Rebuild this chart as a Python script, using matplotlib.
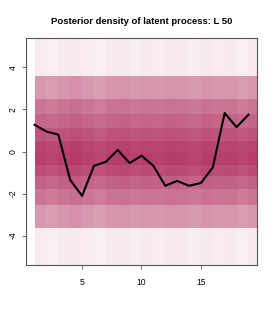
import matplotlib
matplotlib.use("Agg")
import matplotlib.pyplot as plt
import numpy as np
from matplotlib.colors import to_rgb

# ---- data ----
time = list(range(1, 20))
latent = [1.27, 0.95, 0.80, -1.35, -2.11, -0.68, -0.49, 0.07, -0.55, -0.20,
          -0.68, -1.63, -1.40, -1.63, -1.50, -0.76, 1.83, 1.16, 1.75]
# band edges (quantile levels of the posterior, top to bottom)
band_edges = [10.0, 3.60, 2.52, 1.80, 1.13, 0.50, -0.05, -0.63, -1.16, -1.80, -2.55, -3.62, -10.0]
# density shading (alpha of maroon) for each band, top to bottom
band_alpha = [0.09, 0.50, 0.66, 0.74, 0.82, 0.90, 0.92, 0.86, 0.76, 0.66, 0.50, 0.09]
# small per-column variation of the shading
col_shift = [0.00, -0.02, 0.01, 0.03, 0.00, -0.03, 0.01, 0.02, -0.01, 0.01,
             0.00, 0.02, 0.01, -0.01, 0.02, 0.00, 0.01, -0.02, 0.01]
title = "Posterior density of latent process: L 50"
xticks = [5, 10, 15]
yticks = [-4, -2, 0, 2, 4]

plt.rcParams['font.family'] = ['Liberation Sans', 'DejaVu Sans']
fig = plt.figure(figsize=(2.75, 3.14), dpi=100)
ax = fig.add_axes([0.0945, 0.156, 0.840, 0.723])

maroon = np.array(to_rgb('#b03060'))
white = np.ones(3)
for j, t in enumerate(time):
    for k in range(len(band_alpha)):
        top, bot = band_edges[k], band_edges[k + 1]
        a = band_alpha[k] + (col_shift[j] if 0 < k < len(band_alpha) - 1 else col_shift[j] * 0.5)
        a = min(max(a, 0.0), 1.0)
        c = white * (1 - a) + maroon * a
        ax.bar(t, top - bot, bottom=bot, width=1.0, align='edge', color=c,
               edgecolor='none', linewidth=0)

ax.plot(time, latent, color='black', lw=1.5, zorder=5)

ax.set_xlim(1 - 0.04 * 18, 19 + 0.04 * 18)
ax.set_ylim(-5.4, 5.4)
ax.set_xticks(xticks)
ax.set_yticks(yticks)
ax.set_yticklabels([str(v) for v in yticks], rotation=90, va='center')
ax.tick_params(axis='both', labelsize=6.2, length=3, width=0.6, color='#555555')
ax.tick_params(axis='y', pad=3)
ax.tick_params(axis='x', pad=6)
for s in ax.spines.values():
    s.set_color('#555555')
    s.set_linewidth(0.8)
ax.set_title(title, fontsize=6.8, fontweight='bold', pad=10)

fig.savefig('out.png', dpi=100)
